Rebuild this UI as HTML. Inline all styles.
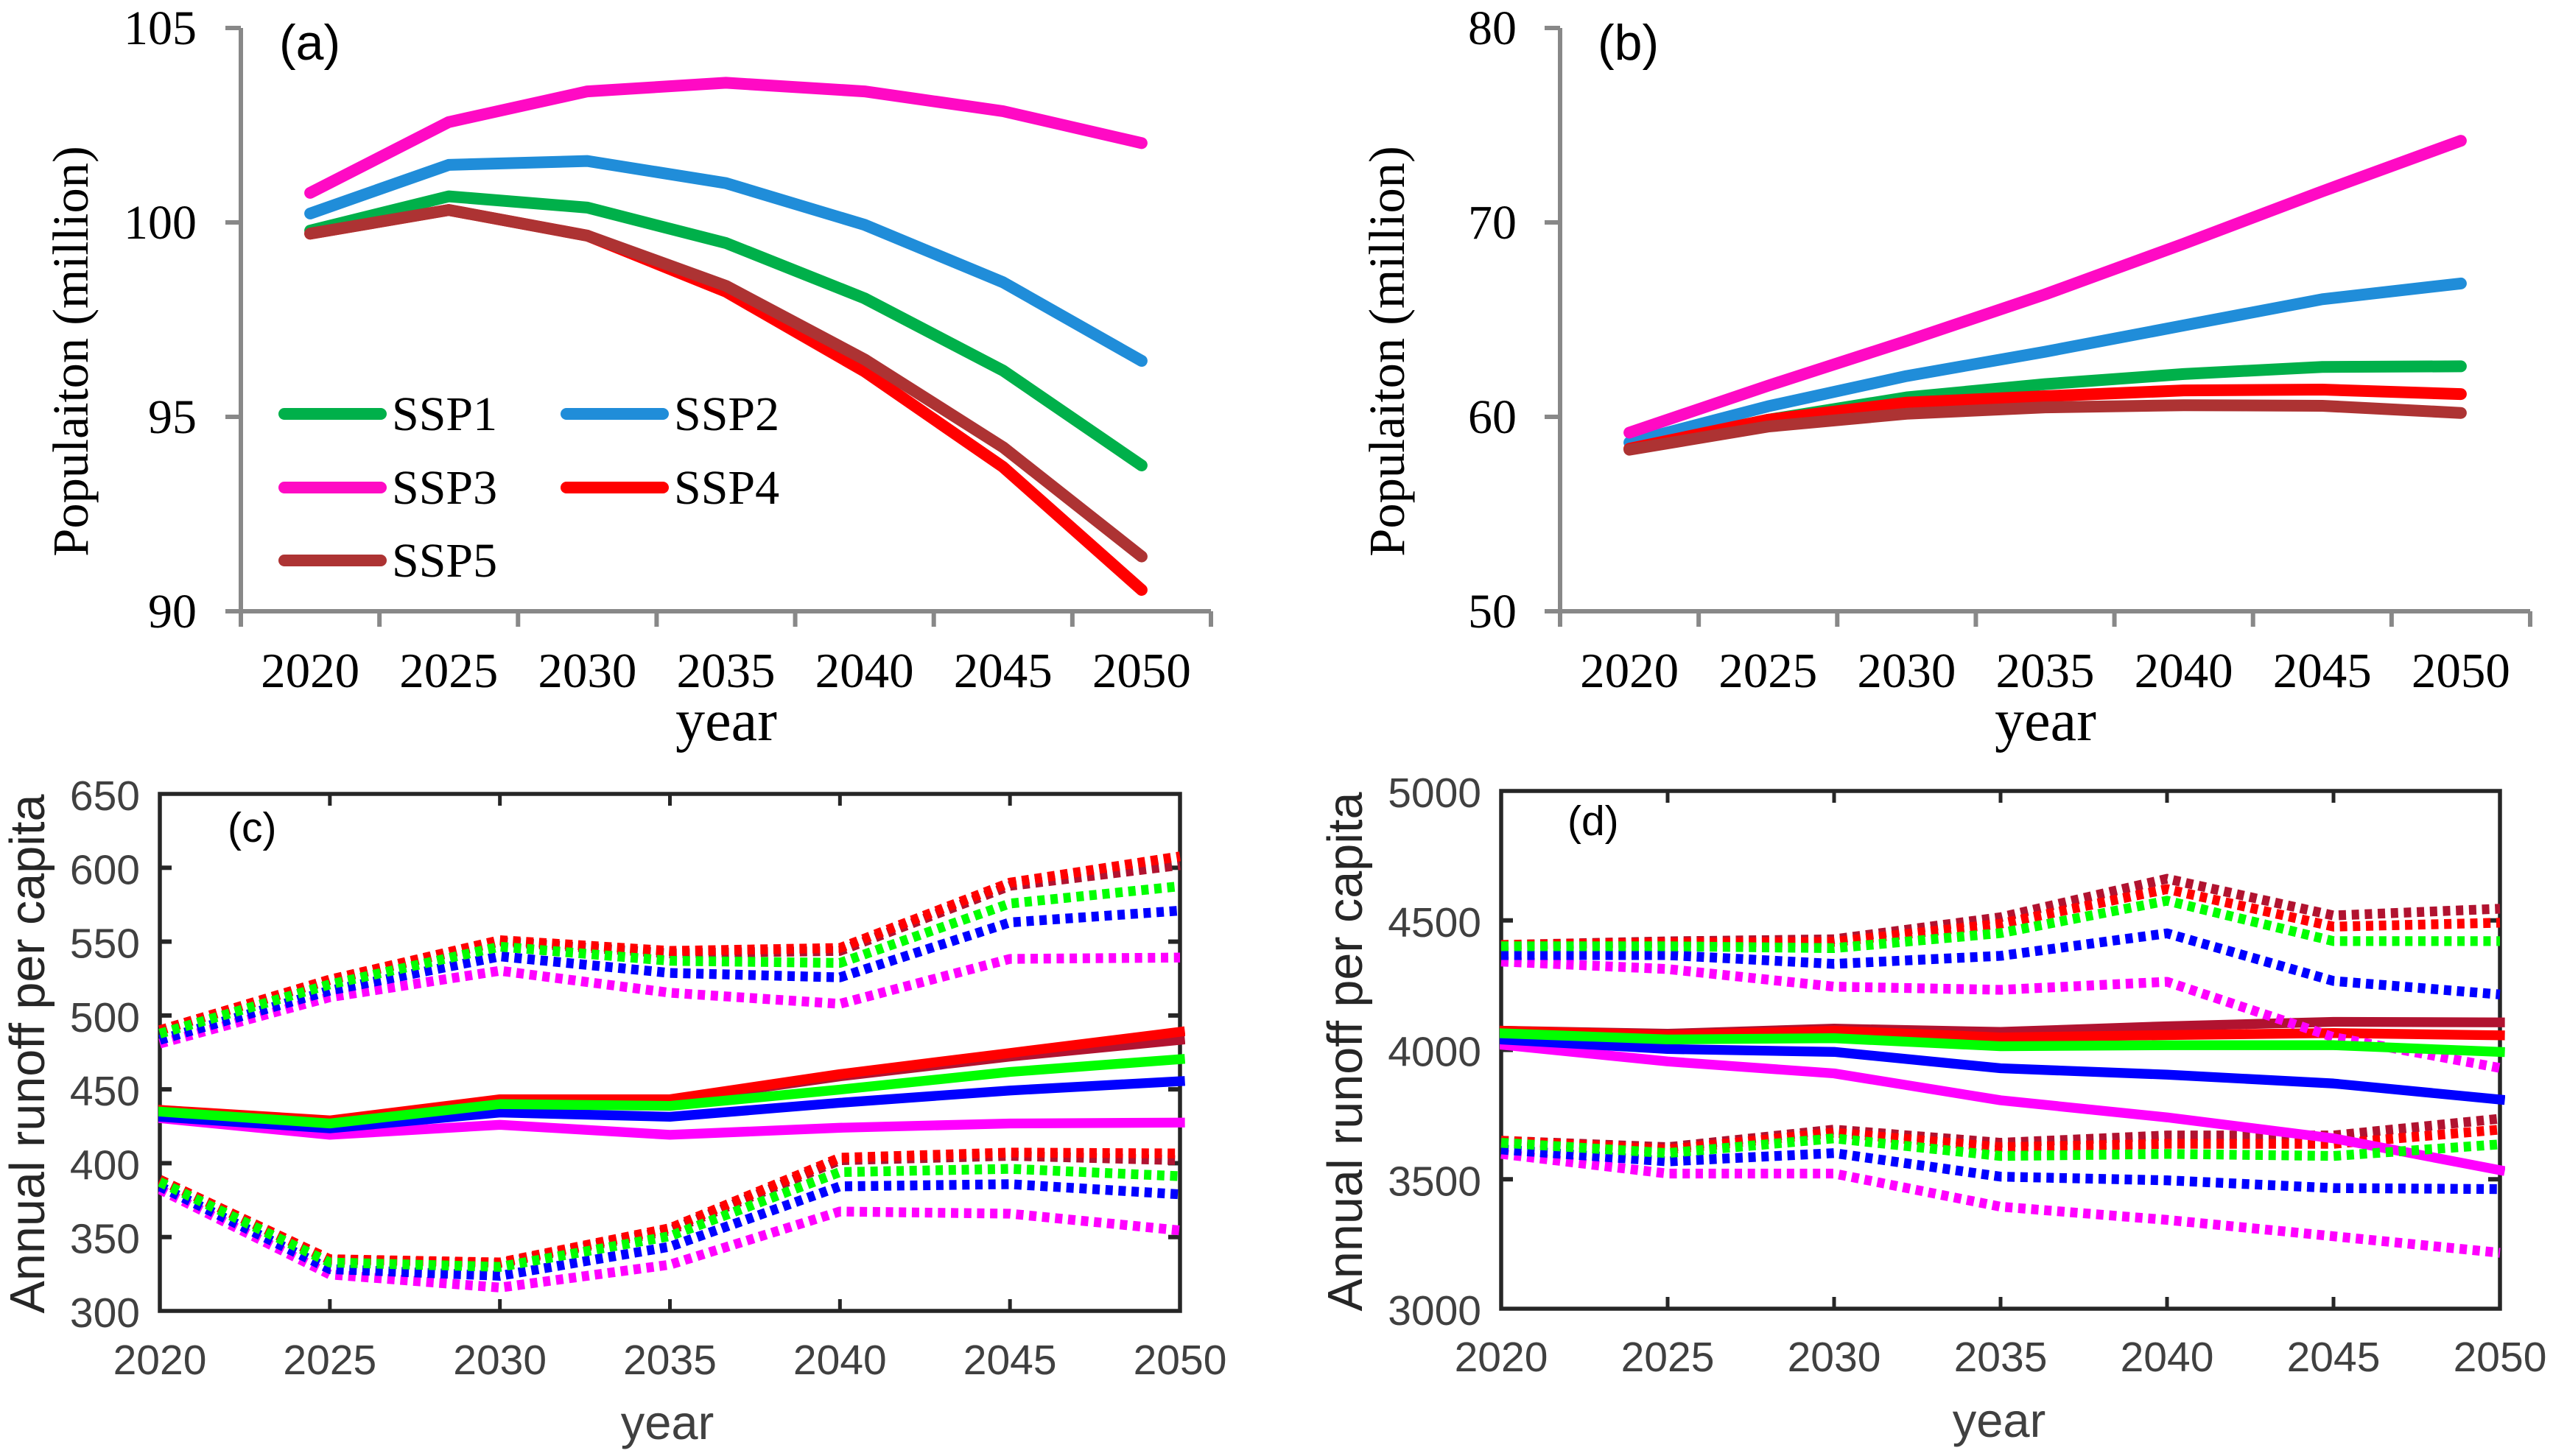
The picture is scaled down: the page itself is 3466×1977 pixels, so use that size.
<!DOCTYPE html>
<html lang="en">
<head>
<meta charset="utf-8">
<title>Population and annual runoff per capita under SSP scenarios</title>
<style>
html,body{margin:0;padding:0;background:#fff;}
svg{display:block;}
.serif{font-family:"Liberation Serif",serif;fill:#000;}
.sans{font-family:"Liberation Sans",sans-serif;}
</style>
</head>
<body>
<svg id="figure" xmlns="http://www.w3.org/2000/svg" width="3466" height="1977" viewBox="0 0 3466 1977">
  <rect x="0" y="0" width="3466" height="1977" fill="#ffffff"/>
  <g id="panel-a">
    <text class="sans" x="379" y="81" font-size="68" fill="#000">(a)</text>
    <text class="serif" x="986" y="1005" font-size="80" text-anchor="middle">year</text>
    <text class="serif" transform="translate(119 477) rotate(-90)" font-size="68.5" text-anchor="middle">Populaiton (million)</text>
  </g>
  <g id="panel-b">
    <text class="sans" x="2169" y="81" font-size="68" fill="#000">(b)</text>
    <text class="serif" x="2777" y="1005" font-size="80" text-anchor="middle">year</text>
    <text class="serif" transform="translate(1906 477) rotate(-90)" font-size="68.5" text-anchor="middle">Populaiton (million)</text>
  </g>
  <g id="panel-c">
    <text class="sans" x="309" y="1143" font-size="57" fill="#000">(c)</text>
    <text class="sans" x="906" y="1954" font-size="65" fill="#404040" text-anchor="middle">year</text>
    <text class="sans" transform="translate(60 1431) rotate(-90)" font-size="66.5" fill="#262626" text-anchor="middle">Annual runoff per capita</text>
  </g>
  <g id="panel-d">
    <text class="sans" x="2128" y="1134" font-size="57" fill="#000">(d)</text>
    <text class="sans" x="2714" y="1951" font-size="65" fill="#404040" text-anchor="middle">year</text>
    <text class="sans" transform="translate(1849 1428) rotate(-90)" font-size="66.5" fill="#262626" text-anchor="middle">Annual runoff per capita</text>
  </g>
</svg>
<script>
var years = [2020, 2025, 2030, 2035, 2040, 2045, 2050];

var aTicks = [90, 95, 100, 105];
var bTicks = [50, 60, 70, 80];
var cTicks = [300, 350, 400, 450, 500, 550, 600, 650];
var dTicks = [3000, 3500, 4000, 4500, 5000];

var aSsp1 = [99.79, 100.67, 100.38, 99.47, 98.05, 96.19, 93.75];
var aSsp2 = [100.23, 101.48, 101.58, 101.01, 99.94, 98.46, 96.44];
var aSsp3 = [100.76, 102.58, 103.37, 103.59, 103.37, 102.86, 102.04];
var aSsp4 = [99.71, 100.32, 99.66, 98.22, 96.17, 93.71, 90.55];
var aSsp5 = [99.71, 100.32, 99.66, 98.37, 96.48, 94.22, 91.41];

var bSsp1 = [58.36, 59.85, 61.0, 61.68, 62.2, 62.57, 62.6];
var bSsp2 = [58.68, 60.54, 62.1, 63.35, 64.7, 66.05, 66.86];
var bSsp3 = [59.19, 61.6, 63.9, 66.3, 68.9, 71.6, 74.2];
var bSsp4 = [58.36, 59.85, 60.73, 61.06, 61.36, 61.4, 61.17];
var bSsp5 = [58.31, 59.5, 60.16, 60.49, 60.6, 60.57, 60.2];

var cSsp1Mean = [434.9, 426.9, 440.0, 438.8, 449.8, 461.8, 470.4];
var cSsp2Mean = [431.4, 423.6, 434.3, 431.4, 440.9, 449.2, 455.5];
var cSsp3Mean = [430.5, 419.2, 426.0, 419.2, 424.0, 426.9, 427.5];
var cSsp4Mean = [436.1, 429.0, 443.3, 443.3, 460.3, 474.6, 488.9];
var cSsp5Mean = [436.0, 428.5, 443.0, 442.5, 458.8, 472.2, 483.5];
var cSsp1High = [487.7, 521.0, 546.6, 537.0, 535.6, 575.8, 587.5];
var cSsp2High = [483.5, 516.9, 540.0, 528.8, 525.8, 563.0, 571.0];
var cSsp3High = [481.0, 512.4, 530.3, 515.4, 507.9, 538.3, 539.2];
var cSsp4High = [490.0, 524.3, 551.0, 543.7, 545.7, 589.9, 607.7];
var cSsp5High = [490.0, 524.0, 550.0, 542.0, 543.7, 587.8, 601.8];
var cSsp1Low = [387.3, 332.8, 329.8, 350.6, 394.0, 396.2, 391.2];
var cSsp2Low = [384.3, 328.3, 323.8, 343.5, 384.3, 385.8, 378.9];
var cSsp3Low = [382.2, 324.7, 315.8, 331.3, 367.3, 365.8, 354.5];
var cSsp4Low = [388.8, 335.0, 332.8, 356.0, 403.7, 407.2, 406.6];
var cSsp5Low = [388.8, 334.5, 332.2, 354.5, 402.0, 405.0, 402.0];

var dSsp1Mean = [4064, 4040, 4045, 4014, 4018, 4018, 3992];
var dSsp2Mean = [4040, 4003, 3992, 3929, 3904, 3870, 3808];
var dSsp3Mean = [4020, 3955, 3909, 3805, 3739, 3658, 3535];
var dSsp4Mean = [4074, 4057, 4074, 4048, 4057, 4065, 4056];
var dSsp5Mean = [4074, 4062, 4082, 4069, 4091, 4108, 4106];
var dSsp1High = [4400, 4400, 4393, 4451, 4576, 4420, 4420];
var dSsp2High = [4366, 4366, 4332, 4363, 4450, 4266, 4214];
var dSsp3High = [4341, 4312, 4244, 4232, 4263, 4049, 3930];
var dSsp4High = [4405, 4414, 4417, 4487, 4621, 4476, 4491];
var dSsp5High = [4405, 4419, 4427, 4512, 4661, 4519, 4545];
var dSsp1Low = [3641, 3601, 3658, 3590, 3598, 3590, 3635];
var dSsp2Low = [3615, 3569, 3601, 3510, 3496, 3466, 3462];
var dSsp3Low = [3598, 3522, 3522, 3394, 3343, 3280, 3216];
var dSsp4Low = [3649, 3615, 3680, 3624, 3637, 3637, 3692];
var dSsp5Low = [3649, 3624, 3692, 3641, 3669, 3669, 3734];

var legendLabels = ['SSP1', 'SSP2', 'SSP3', 'SSP4', 'SSP5'];

var NS = 'http://www.w3.org/2000/svg';
var TOP_COLORS = ['#00B04A', '#208DD9', '#FF0AC4', '#FF0000', '#AD3333'];
var BOTTOM_GREEN = '#00FF00', BOTTOM_BLUE = '#0000FF', BOTTOM_MAGENTA = '#FF00FF', BOTTOM_RED = '#FF0000', BOTTOM_BROWN = '#B11330';

function make(tag, attrs, parent) {
  var el = document.createElementNS(NS, tag);
  for (var k in attrs) el.setAttribute(k, attrs[k]);
  parent.appendChild(el);
  return el;
}

function linearScale(d0, d1, r0, r1) {
  return function (v) { return r0 + (v - d0) * (r1 - r0) / (d1 - d0); };
}

function pointsOf(values, xFn, yFn) {
  return values.map(function (v, i) { return xFn(i).toFixed(1) + ',' + yFn(v).toFixed(1); }).join(' ');
}

function drawTopPanel(id, layout, ticks, series) {
  var g = document.getElementById(id);
  var step = (layout.right - layout.left) / years.length;
  var xFn = function (i) { return layout.left + step * (i + 0.5); };
  var yFn = linearScale(ticks[0], ticks[ticks.length - 1], layout.bottom, layout.top);

  var yAxis = make('line', {x1: layout.left, x2: layout.left, y1: layout.top, y2: layout.bottom, stroke: '#888888', 'stroke-width': 6}, g);
  
  
  var xAxis = make('line', {x1: layout.left, x2: layout.right, y1: layout.bottom, y2: layout.bottom, stroke: '#888888', 'stroke-width': 6}, g);
  
  

  ticks.forEach(function (t) {
    var mark = make('line', {x1: layout.left - 21, x2: layout.left, y1: yFn(t), y2: yFn(t), stroke: '#888888', 'stroke-width': 6}, g);
    
    
    var label = make('text', {x: layout.labelRight, y: yFn(t) + 22, 'font-size': 66, 'text-anchor': 'end', 'class': 'serif'}, g);
    
    
    label.textContent = t;
  });
  for (var i = 0; i <= years.length; i++) {
    var xt = layout.left + step * i;
    var xMark = make('line', {x1: xt, x2: xt, y1: layout.bottom, y2: layout.bottom + 21, stroke: '#888888', 'stroke-width': 6}, g);
    
    
  }
  years.forEach(function (yr, i) {
    var xl = make('text', {x: xFn(i), y: 933, 'font-size': 67, 'text-anchor': 'middle', 'class': 'serif'}, g);
    
    
    xl.textContent = yr;
  });
  series.forEach(function (values, s) {
    var line = make('polyline', {points: pointsOf(values, xFn, yFn), fill: 'none', stroke: TOP_COLORS[s], 'stroke-width': 16, 'stroke-linecap': 'round', 'stroke-linejoin': 'round'}, g);
    
    
  });
}

function drawBottomPanel(id, layout, ticks, groups) {
  var g = document.getElementById(id);
  var xFn = function (i) { return linearScale(years[0], years[years.length - 1], layout.left, layout.right)(years[i]); };
  var yFn = linearScale(ticks[0], ticks[ticks.length - 1], layout.bottom, layout.top);
  var clipId = id + '-clip';
  var defs = make('defs', {}, g);
  var cp = make('clipPath', {id: clipId}, defs);
  make('rect', {x: layout.left - 2, y: layout.top - 10, width: layout.right - layout.left + 9, height: layout.bottom - layout.top + 20}, cp);

  var frame = make('rect', {x: layout.left, y: layout.top, width: layout.right - layout.left, height: layout.bottom - layout.top, fill: 'none', stroke: '#262626', 'stroke-width': 5.5}, g);
  
  

  ticks.forEach(function (t) {
    if (t !== ticks[0] && t !== ticks[ticks.length - 1]) {
      var tl = make('line', {x1: layout.left, x2: layout.left + 16, y1: yFn(t), y2: yFn(t), stroke: '#262626', 'stroke-width': 6}, g);
      
      
      var tr = make('line', {x1: layout.right - 16, x2: layout.right, y1: yFn(t), y2: yFn(t), stroke: '#262626', 'stroke-width': 6}, g);
      
      
    }
    var label = make('text', {x: layout.labelRight, y: yFn(t) + 22, 'font-size': 57, 'text-anchor': 'end', fill: '#404040', 'class': 'sans'}, g);
    
    
    label.textContent = t;
  });
  years.forEach(function (yr, i) {
    if (i > 0 && i < years.length - 1) {
      var tb = make('line', {x1: xFn(i), x2: xFn(i), y1: layout.bottom - 16, y2: layout.bottom, stroke: '#262626', 'stroke-width': 5}, g);
      
      
      var tt = make('line', {x1: xFn(i), x2: xFn(i), y1: layout.top, y2: layout.top + 16, stroke: '#262626', 'stroke-width': 5}, g);
      
      
    }
    var xl = make('text', {x: xFn(i), y: layout.labelBase, 'font-size': 57, 'text-anchor': 'middle', fill: '#404040', 'class': 'sans'}, g);
    
    
    xl.textContent = yr;
  });

  var marks = make('g', {'clip-path': 'url(#' + clipId + ')'}, g);
  
  
  groups.forEach(function (group) {
    [['low', group.low], ['high', group.high]].forEach(function (pair) {
      var d = make('polyline', {points: pointsOf(pair[1], xFn, yFn), fill: 'none', stroke: group.color, 'stroke-width': 13.3, 'stroke-dasharray': '10 7.7', 'stroke-linejoin': 'round'}, marks);
      
      
    });
    var m = make('polyline', {points: pointsOf(group.mean, xFn, yFn), fill: 'none', stroke: group.color, 'stroke-width': 13.3, 'stroke-linecap': 'square', 'stroke-linejoin': 'round'}, marks);
    
    
  });
}

function drawLegend() {
  var g = document.getElementById('panel-a');
  var slots = [[378, 562], [761, 562], [378, 662], [761, 662], [378, 761]];
  legendLabels.forEach(function (label, i) {
    var entry = make('g', {}, g);
    
    
    make('line', {x1: slots[i][0] + 8, x2: slots[i][0] + 139, y1: slots[i][1], y2: slots[i][1], stroke: TOP_COLORS[i], 'stroke-width': 16, 'stroke-linecap': 'round'}, entry);
    var t = make('text', {x: slots[i][0] + 154, y: slots[i][1] + 22, 'font-size': 66, 'class': 'serif'}, entry);
    t.textContent = label;
  });
}

drawTopPanel('panel-a', {left: 327, right: 1644, top: 38, bottom: 830, labelRight: 267}, aTicks, [aSsp1, aSsp2, aSsp3, aSsp4, aSsp5]);
drawTopPanel('panel-b', {left: 2118, right: 3435, top: 38, bottom: 830, labelRight: 2059}, bTicks, [bSsp1, bSsp2, bSsp3, bSsp4, bSsp5]);
drawLegend();
drawBottomPanel('panel-c', {left: 217, right: 1602, top: 1078, bottom: 1780, labelRight: 190, labelBase: 1866}, cTicks, [
  {name: 'ssp5', color: BOTTOM_BROWN, mean: cSsp5Mean, high: cSsp5High, low: cSsp5Low},
  {name: 'ssp4', color: BOTTOM_RED, mean: cSsp4Mean, high: cSsp4High, low: cSsp4Low},
  {name: 'ssp3', color: BOTTOM_MAGENTA, mean: cSsp3Mean, high: cSsp3High, low: cSsp3Low},
  {name: 'ssp2', color: BOTTOM_BLUE, mean: cSsp2Mean, high: cSsp2High, low: cSsp2Low},
  {name: 'ssp1', color: BOTTOM_GREEN, mean: cSsp1Mean, high: cSsp1High, low: cSsp1Low}
]);
drawBottomPanel('panel-d', {left: 2038, right: 3394, top: 1074, bottom: 1777, labelRight: 2011, labelBase: 1862}, dTicks, [
  {name: 'ssp5', color: BOTTOM_BROWN, mean: dSsp5Mean, high: dSsp5High, low: dSsp5Low},
  {name: 'ssp4', color: BOTTOM_RED, mean: dSsp4Mean, high: dSsp4High, low: dSsp4Low},
  {name: 'ssp3', color: BOTTOM_MAGENTA, mean: dSsp3Mean, high: dSsp3High, low: dSsp3Low},
  {name: 'ssp2', color: BOTTOM_BLUE, mean: dSsp2Mean, high: dSsp2High, low: dSsp2Low},
  {name: 'ssp1', color: BOTTOM_GREEN, mean: dSsp1Mean, high: dSsp1High, low: dSsp1Low}
]);
</script>
</body>
</html>
